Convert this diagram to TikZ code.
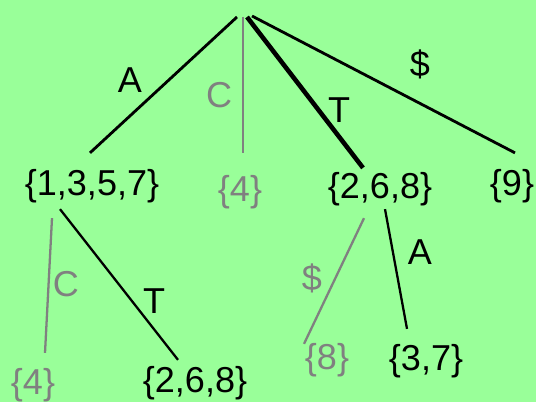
\documentclass[tikz,border=0pt]{standalone}
\usepackage{fontspec}
\setmainfont{Liberation Sans}
\usepackage{xcolor}
\definecolor{leafgreen}{RGB}{153,255,153}
\definecolor{dimgray}{RGB}{128,128,128}

\begin{document}
\begin{tikzpicture}[x=0.02cm, y=-0.02cm,
  set/.style={inner sep=0pt, font=\fontsize{20.5}{24}\selectfont},
  lbl/.style={inner sep=0pt, font=\fontsize{20.5}{24}\selectfont},
  edge/.style={line width=1.6pt},
  heavy/.style={line width=2.6pt},
  thinedge/.style={line width=1.3pt},
  faded/.style={dimgray}]

%==================================================
% Background
%==================================================
\fill[leafgreen] (0,0) rectangle (536,402);
\useasboundingbox (0,0) rectangle (536,402);

%==================================================
% Root and first level
%==================================================
\coordinate (root) at (244,16);

\node[set]        (n1357) at (92,186)  {\{1,3,5,7\}};
\node[set, faded] (n4a)   at (240,192) {\{4\}};
\node[set]        (n268a) at (380,189) {\{2,6,8\}};
\node[set]        (n9)    at (512,186) {\{9\}};

% Edges out of the root
\draw[edge]
  ([shift={(-7,1)}]root) -- ([shift={(-2,-16)}]n1357.north);
\draw[thinedge, faded]
  ([shift={(-1,1)}]root) -- ([shift={(3,-22)}]n4a.north);
\draw[heavy]
  ([shift={(3,1)}]root) -- ([shift={(-17,-4)}]n268a.north);
\draw[edge]
  ([shift={(8,0)}]root) -- ([shift={(3,-16)}]n9.north);

% Edge labels
\node[lbl]        (lA)   at (130,80)  {A};
\node[lbl, faded] (lC)   at (219,95)  {C};
\node[lbl]        (lT)   at (339,110) {T};
\node[lbl]        (lD)   at (420,64)  {\$};

%==================================================
% Second level
%==================================================
\node[set, faded] (n4b)   at (33,385)  {\{4\}};
\node[set]        (n268b) at (195,383) {\{2,6,8\}};
\node[set, faded] (n8)    at (327,360) {\{8\}};
\node[set]        (n37)   at (426,361) {\{3,7\}};

% Below {1,3,5,7}
\draw[thinedge, faded]
  ([shift={(-40,15)}]n1357.south) -- ([shift={(12,-15)}]n4b.north);
\draw[thinedge]
  ([shift={(-32,6)}]n1357.south) -- ([shift={(-17,-6)}]n268b.north);

% Below {2,6,8}
\draw[thinedge, faded]
  ([shift={(-16,12)}]n268a.south) -- ([shift={(-23,1)}]n8.north);
\draw[thinedge]
  ([shift={(5,3)}]n268a.south) -- ([shift={(-19,-15)}]n37.north);

% Edge labels
\node[lbl, faded] (lC2) at (66,284)  {C};
\node[lbl]        (lT2) at (154,301) {T};
\node[lbl, faded] (lD2) at (312,278) {\$};
\node[lbl]        (lA2) at (420,252) {A};

\end{tikzpicture}
\end{document}
